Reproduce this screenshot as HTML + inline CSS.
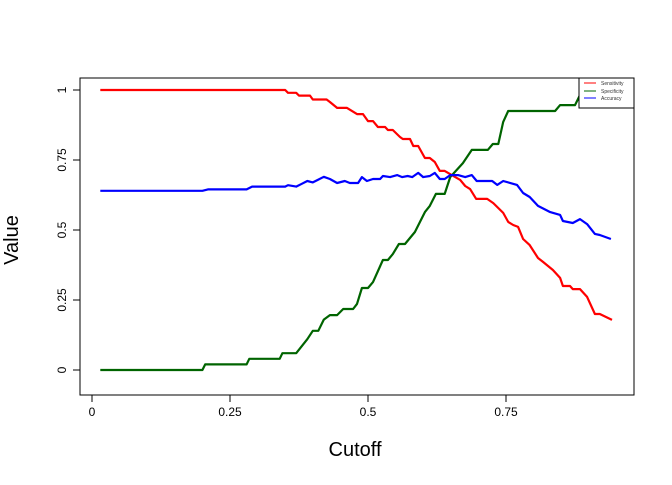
<!DOCTYPE html>
<html><head><meta charset="utf-8"><style>
body{margin:0;background:#fff}
svg text{font-family:"Liberation Sans",Arial,sans-serif}
</style></head><body>
<svg id="chart" width="672" height="480" xmlns="http://www.w3.org/2000/svg">
<rect width="672" height="480" fill="#fff"/>
<g id="plot"></g>
</svg>
<script>
const xTicks=[0,0.25,0.5,0.75];
const xTickLabels=["0","0.25","0.5","0.75"];
const yTicks=[0,0.25,0.5,0.75,1];
const yTickLabels=["0","0.25","0.5","0.75","1"];
const sensCut=[0.015,0.35,0.355,0.37,0.375,0.395,0.40,0.425,0.431,0.444,0.462,0.48,0.491,0.5,0.509,0.518,0.531,0.536,0.545,0.558,0.563,0.576,0.582,0.591,0.603,0.612,0.621,0.63,0.639,0.658,0.667,0.676,0.685,0.696,0.716,0.727,0.745,0.754,0.763,0.772,0.781,0.793,0.808,0.817,0.835,0.848,0.853,0.866,0.871,0.884,0.897,0.911,0.92,0.942];
const sensVal=[1,1,0.99,0.99,0.98,0.98,0.966,0.966,0.957,0.936,0.936,0.914,0.914,0.889,0.889,0.868,0.868,0.857,0.857,0.832,0.825,0.825,0.8,0.8,0.757,0.757,0.743,0.711,0.711,0.689,0.679,0.657,0.646,0.611,0.611,0.596,0.561,0.529,0.518,0.511,0.468,0.446,0.4,0.386,0.357,0.329,0.3,0.3,0.289,0.289,0.261,0.2,0.2,0.179];
const specCut=[0.015,0.2,0.205,0.28,0.285,0.34,0.345,0.37,0.39,0.40,0.41,0.42,0.431,0.444,0.455,0.473,0.48,0.489,0.5,0.509,0.527,0.536,0.545,0.556,0.567,0.585,0.603,0.612,0.623,0.639,0.649,0.672,0.688,0.717,0.726,0.736,0.745,0.754,0.839,0.848,0.875,0.884,0.9,0.942];
const specVal=[0,0,0.02,0.02,0.04,0.04,0.06,0.06,0.11,0.14,0.14,0.18,0.196,0.196,0.218,0.218,0.236,0.293,0.293,0.314,0.393,0.393,0.414,0.45,0.45,0.493,0.564,0.586,0.629,0.629,0.689,0.739,0.786,0.786,0.807,0.807,0.886,0.925,0.925,0.946,0.946,0.982,1,1];
const accCut=[0.015,0.2,0.21,0.28,0.29,0.35,0.355,0.37,0.38,0.39,0.40,0.41,0.42,0.431,0.444,0.458,0.467,0.482,0.489,0.498,0.509,0.522,0.527,0.54,0.553,0.562,0.572,0.58,0.591,0.6,0.612,0.621,0.63,0.639,0.649,0.663,0.676,0.688,0.697,0.725,0.734,0.745,0.77,0.781,0.793,0.808,0.83,0.848,0.853,0.871,0.884,0.897,0.911,0.92,0.94];
const accVal=[0.64,0.64,0.645,0.645,0.655,0.655,0.66,0.655,0.665,0.675,0.67,0.68,0.69,0.682,0.668,0.675,0.668,0.668,0.689,0.675,0.682,0.682,0.693,0.689,0.696,0.689,0.693,0.689,0.704,0.689,0.693,0.704,0.682,0.682,0.696,0.696,0.689,0.696,0.675,0.675,0.661,0.675,0.661,0.632,0.618,0.586,0.564,0.554,0.532,0.525,0.539,0.521,0.486,0.482,0.468];

const X=c=>92+c*552, Y=v=>370-v*280;
const NS="http://www.w3.org/2000/svg";
const g=document.getElementById('plot');
function mk(t,a){const e=document.createElementNS(NS,t);for(const k in a)e.setAttribute(k,a[k]);g.appendChild(e);return e;}
let e=mk('rect',{x:80,y:78,width:554,height:317,fill:'none',stroke:'#000','stroke-width':1});


function series(cs,vs,col,name){const p=cs.map((c,i)=>X(c).toFixed(1)+','+Y(vs[i]).toFixed(1)).join(' ');
const l=mk('polyline',{points:p,fill:'none',stroke:col,'stroke-width':2.2,'stroke-linejoin':'round'});

}
series(specCut,specVal,'#006400','specificity-line');
series(sensCut,sensVal,'#ff0000','sensitivity-line');
series(accCut,accVal,'#0000ff','accuracy-line');
// x axis
e=mk('line',{x1:X(xTicks[0]),x2:X(xTicks[xTicks.length-1]),y1:395,y2:395,stroke:'#000'});


xTicks.forEach((t,i)=>{mk('line',{x1:X(t),x2:X(t),y1:395,y2:402,stroke:'#000'});
const tx=mk('text',{x:X(t),y:416,'font-size':12,'text-anchor':'middle'});tx.textContent=xTickLabels[i];

});
e=mk('line',{x1:80,x2:80,y1:Y(yTicks[0]),y2:Y(yTicks[yTicks.length-1]),stroke:'#000'});


yTicks.forEach((t,i)=>{mk('line',{x1:73,x2:80,y1:Y(t),y2:Y(t),stroke:'#000'});
const tx=mk('text',{x:0,y:0,'font-size':12,'text-anchor':'middle',transform:`translate(66,${Y(t)}) rotate(-90)`});tx.textContent=yTickLabels[i];

});
e=mk('text',{x:355,y:456,'font-size':20,'text-anchor':'middle'});e.textContent='Cutoff';


e=mk('text',{x:0,y:0,'font-size':20,'text-anchor':'middle',transform:'translate(18,240) rotate(-90)'});e.textContent='Value';


// legend
e=mk('rect',{x:579,y:78,width:55,height:30,fill:'#fff',stroke:'#000'});


[['Sensitivity','#ff0000',85],['Specificity','#006400',93],['Accuracy','#0000ff',100]].forEach(([n,c,y])=>{
mk('line',{x1:584,x2:596,y1:y-2,y2:y-2,stroke:c,'stroke-width':1});
const t=mk('text',{x:601,y:y,'font-size':5,fill:'#333'});t.textContent=n;

});
</script>
</body></html>
